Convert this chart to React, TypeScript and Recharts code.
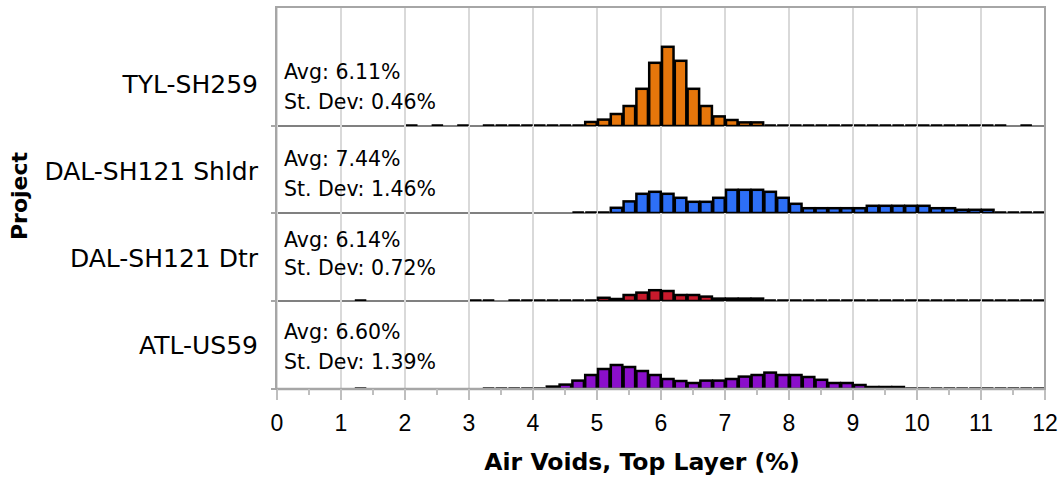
import React from "react";
import { BarChart, Bar, XAxis, YAxis, CartesianGrid } from "recharts";

// histogram bins, 0.2 % wide, by lower edge
const binStarts = [
  0, 0.2, 0.4, 0.6, 0.8, 1, 1.2, 1.4, 1.6, 1.8,
  2, 2.2, 2.4, 2.6, 2.8, 3, 3.2, 3.4, 3.6, 3.8,
  4, 4.2, 4.4, 4.6, 4.8, 5, 5.2, 5.4, 5.6, 5.8,
  6, 6.2, 6.4, 6.6, 6.8, 7, 7.2, 7.4, 7.6, 7.8,
  8, 8.2, 8.4, 8.6, 8.8, 9, 9.2, 9.4, 9.6, 9.8,
  10, 10.2, 10.4, 10.6, 10.8, 11, 11.2, 11.4, 11.6, 11.8,
];
const BIN_W = 0.2;

const projects = ["TYL-SH259", "DAL-SH121 Shldr", "DAL-SH121 Dtr", "ATL-US59"];
const avgs = ["6.11%", "7.44%", "6.14%", "6.60%"];
const stDevs = ["0.46%", "1.46%", "0.72%", "1.39%"];
const colors = ["#E6760B", "#2D6FF7", "#C81A2C", "#8B0FCB"];

// frequency (%) per bin; null = no bin drawn, 0 = empty bin
const tyl = [
  null, null, null, null, null, null, null, null, null, null,
  0, null, 0, null, 0, null, 0, 0, 0, 0,
  0, 0, 0, 0, 1.0, 1.6, 3.0, 5.0, 9.3, 15.8,
  19.8, 16.3, 9.3, 5.0, 2.4, 1.5, 0.9, 0.9, 0, 0,
  0, 0, 0, 0, 0, 0, 0, 0, 0, 0,
  0, 0, 0, 0, 0, 0, 0, null, 0, null,
];
const dalShldr = [
  null, null, null, null, null, null, null, null, null, null,
  null, null, null, null, null, null, null, null, null, null,
  null, null, null, 0, 0, 0, 1.3, 2.9, 4.8, 5.3,
  4.8, 3.8, 2.8, 2.8, 3.8, 5.8, 5.8, 5.8, 5.3, 3.8,
  2.3, 1.2, 1.2, 1.2, 1.2, 1.2, 1.8, 1.8, 1.8, 1.8,
  1.8, 1.2, 1.2, 0.8, 0.8, 0.8, 0, 0, 0, 0,
];
const dalDtr = [
  null, null, null, null, null, null, 0, null, null, null,
  null, null, null, null, null, 0, 0, null, 0, 0,
  0, 0, 0, 0, 0, 0.8, 0.5, 1.5, 2.1, 2.7,
  2.5, 1.5, 1.5, 1.1, 0.6, 0.6, 0.6, 0.6, 0, 0,
  0, 0, 0, 0, 0, 0, 0, 0, 0, 0,
  0, 0, 0, 0, 0, 0, 0, 0, 0, 0,
];
const atl = [
  null, null, null, null, null, null, 0, null, null, null,
  null, null, null, null, null, null, 0, 0, 0, 0,
  0, 0.6, 1.1, 2.1, 3.5, 5.0, 6.0, 5.5, 4.5, 3.5,
  2.5, 2.0, 1.5, 2.1, 2.1, 2.5, 3.1, 3.5, 4.1, 3.5,
  3.5, 3.0, 2.3, 1.5, 1.5, 1.0, 0.5, 0.5, 0.5, 0,
  0, 0, 0, 0, 0, 0, 0, 0, 0, 0,
];
const series = [tyl, dalShldr, dalDtr, atl];

const xTicks = [0, 1, 2, 3, 4, 5, 6, 7, 8, 9, 10, 11, 12];
const halfTicks = [
  0, 0.5, 1, 1.5, 2, 2.5, 3, 3.5, 4, 4.5, 5, 5.5, 6,
  6.5, 7, 7.5, 8, 8.5, 9, 9.5, 10, 10.5, 11, 11.5, 12,
];

// layout
const PLOT_LEFT = 277;
const PLOT_W = 768;
const SIDE = 40;
const PX_PER_UNIT = 4;
const panelTops = [7, 126, 213, 301];
const panelHeights = [119, 87, 88, 88];
const AXIS_H = 91;
const labelY = [84, 171, 258, 345];
const avgY = [72, 159, 240, 332];
const sdY = [102, 189, 268, 362];

const FONT = "'DejaVu Sans', sans-serif";

function HistBar(props: any) {
  const { x, y, width, height, fill, payload } = props;
  if (payload == null || payload.v == null || isNaN(y)) return null;
  if (payload.v === 0) {
    const yb = y + (height || 0);
    return <line x1={x} x2={x + width} y1={yb} y2={yb} stroke="#000" strokeWidth={3.5} />;
  }
  return <rect x={x} y={y} width={width} height={height} fill={fill} stroke="#000" strokeWidth={2.5} />;
}

function AxisTick(props: any) {
  const { x, y, payload } = props;
  const v = payload.value;
  const major = Number.isInteger(v);
  return (
    <g>
      <line x1={x} x2={x} y1={y} y2={y + (major ? 11 : 6)} stroke="#bfbfbf" strokeWidth={2} />
      {major && (
        <text x={x} y={y + 42} textAnchor="middle" fontSize={23} fontFamily="'Liberation Sans', sans-serif" fill="#000">
          {v}
        </text>
      )}
    </g>
  );
}

function Panel({ idx }: { idx: number }) {
  const h = panelHeights[idx];
  const last = idx === series.length - 1;
  const data = binStarts.map((b, i) => ({ x: b + BIN_W / 2, v: series[idx][i] }));
  return (
    <div style={{ position: "absolute", left: PLOT_LEFT - SIDE, top: panelTops[idx] }}>
      <BarChart
        width={PLOT_W + 2 * SIDE}
        height={last ? h + AXIS_H : h}
        data={data}
        margin={{ top: 0, right: SIDE, bottom: 0, left: SIDE }}
      >
        <CartesianGrid vertical horizontal={false} verticalValues={xTicks} stroke="#d9d9d9" strokeWidth={2} />
        <XAxis
          type="number"
          dataKey="x"
          domain={[0, 12]}
          ticks={last ? halfTicks : xTicks}
          interval={0}
          hide={!last}
          height={last ? AXIS_H : 0}
          axisLine={{ stroke: "#a6a6a6", strokeWidth: 2.5 }}
          tickLine={false}
          tickSize={0}
          tickMargin={0}
          tick={<AxisTick />}
        />
        <YAxis hide domain={[0, h / PX_PER_UNIT]} allowDataOverflow />
        <Bar dataKey="v" fill={colors[idx]} barSize={BIN_W * (PLOT_W / 12)} shape={HistBar} isAnimationActive={false} />
      </BarChart>
    </div>
  );
}

export default function App() {
  return (
    <div style={{ position: "absolute", left: 0, top: 0, width: 1058, height: 480, background: "#fff", fontFamily: FONT }}>
      {/* panel baselines, behind the bars */}
      {panelTops.map((t, i) => (
        <div
          key={"bl" + i}
          style={{ position: "absolute", left: PLOT_LEFT, top: t + panelHeights[i] - 1.25, width: PLOT_W, height: 2.5, background: "#808080" }}
        />
      ))}
      {projects.map((_, i) => (
        <Panel key={i} idx={i} />
      ))}
      {/* plot frame */}
      <div
        style={{
          position: "absolute",
          left: 275,
          top: 6,
          width: 771,
          height: 384,
          boxSizing: "border-box",
          borderTop: "2px solid #a6a6a6",
          borderLeft: "2px solid #a6a6a6",
          borderRight: "2px solid #a6a6a6",
          pointerEvents: "none",
        }}
      />
      {panelTops.slice(1).concat([389]).map((t, i) => (
        <div key={"tk" + i} style={{ position: "absolute", left: 271, top: t - 1, width: 6, height: 2, background: "#a6a6a6" }} />
      ))}
      {projects.map((p, i) => (
        <div
          key={p}
          style={{ position: "absolute", right: 1058 - 258, top: labelY[i] - 12.5, fontSize: 25, lineHeight: "25px", whiteSpace: "nowrap", color: "#000" }}
        >
          {p}
        </div>
      ))}
      {projects.map((p, i) => (
        <React.Fragment key={"s" + i}>
          <div style={{ position: "absolute", left: 284, top: avgY[i] - 10, fontSize: 20.5, lineHeight: "20px", whiteSpace: "nowrap" }}>
            Avg: {avgs[i]}
          </div>
          <div style={{ position: "absolute", left: 284, top: sdY[i] - 10, fontSize: 20.5, lineHeight: "20px", whiteSpace: "nowrap" }}>
            St. Dev: {stDevs[i]}
          </div>
        </React.Fragment>
      ))}
      <div
        style={{
          position: "absolute",
          left: 20,
          top: 196,
          transform: "translate(-50%, -50%) rotate(-90deg)",
          fontSize: 22,
          fontWeight: "bold",
          lineHeight: "22px",
          whiteSpace: "nowrap",
        }}
      >
        Project
      </div>
      <div
        style={{
          position: "absolute",
          left: 642,
          top: 462,
          transform: "translate(-50%, -50%)",
          fontSize: 23.5,
          fontWeight: "bold",
          lineHeight: "24px",
          whiteSpace: "nowrap",
        }}
      >
        Air Voids, Top Layer (%)
      </div>
    </div>
  );
}
